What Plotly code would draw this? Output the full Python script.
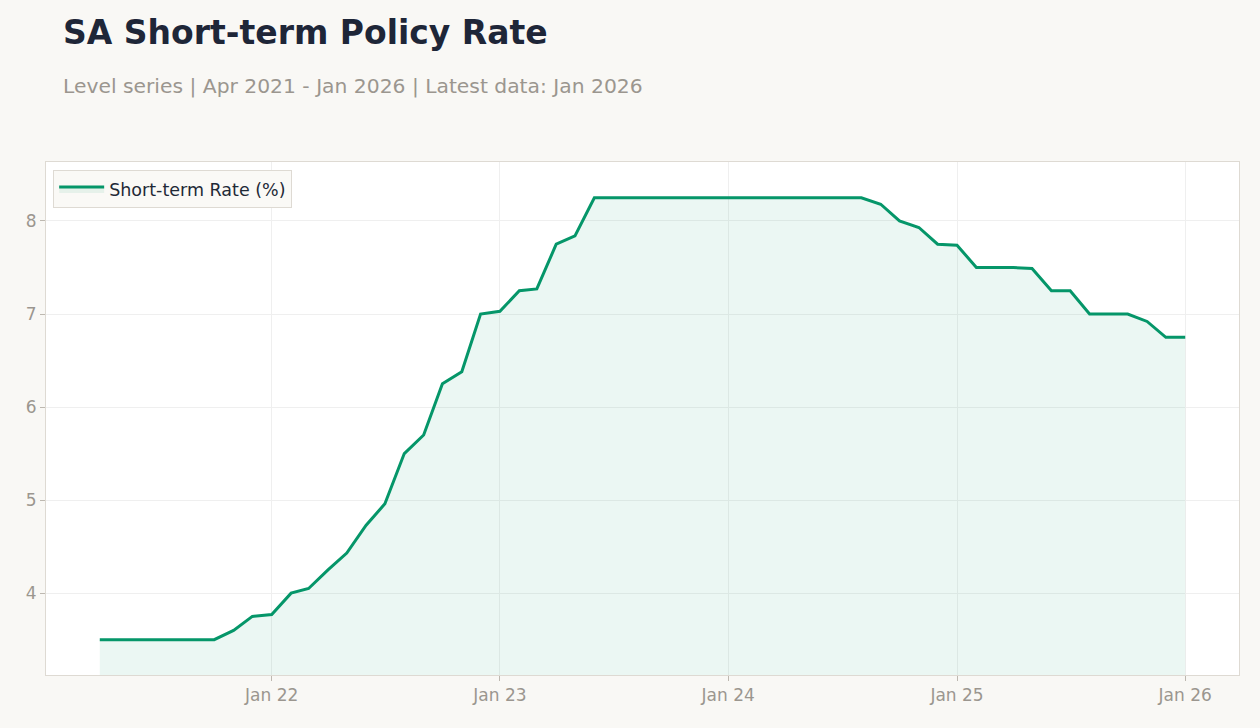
import plotly.graph_objects as go
import pandas as pd

dates = pd.date_range("2021-04-01", "2026-01-01", freq="MS").strftime("%Y-%m-%d").tolist()
rates = [
    3.5, 3.5, 3.5, 3.5, 3.5, 3.5, 3.5, 3.6, 3.75,          # Apr-Dec 2021
    3.77, 4.0, 4.05, 4.25, 4.43, 4.73, 4.96, 5.5, 5.7, 6.25, 6.38, 7.0,  # 2022
    7.03, 7.25, 7.27, 7.75, 7.84, 8.25, 8.25, 8.25, 8.25, 8.25, 8.25, 8.25,  # 2023
    8.25, 8.25, 8.25, 8.25, 8.25, 8.25, 8.25, 8.25, 8.18, 8.0, 7.93, 7.75,  # 2024
    7.74, 7.5, 7.5, 7.5, 7.49, 7.25, 7.25, 7.0, 7.0, 7.0, 6.92, 6.75,  # 2025
    6.75,  # Jan 2026
]
tick_vals = ["2022-01-01", "2023-01-01", "2024-01-01", "2025-01-01", "2026-01-01"]
tick_text = ["Jan 22", "Jan 23", "Jan 24", "Jan 25", "Jan 26"]

LINE = "#059669"
GRAY = "#9b968f"
BORDER = "#dedad3"

fig = go.Figure()
fig.add_trace(go.Scatter(
    x=dates, y=rates, mode="lines", name="Short-term Rate (%)",
    line=dict(color=LINE, width=3),
    fill="tozeroy", fillcolor="rgba(5,150,105,0.08)",
))

fig.update_layout(
    width=1260, height=728,
    paper_bgcolor="#f9f8f5", plot_bgcolor="#ffffff",
    margin=dict(l=46, r=21, t=162, b=53),
    font=dict(family="DejaVu Sans", color=GRAY, size=17),
    showlegend=True,
    legend=dict(x=0.006, y=0.984, xanchor="left", yanchor="top",
                bgcolor="#faf9f6", bordercolor=BORDER, borderwidth=1,
                itemwidth=45,
                font=dict(size=17.5, color="#1f2937")),
    annotations=[
        dict(text="<b>SA Short-term Policy Rate</b>", xref="paper", yref="paper",
             x=0.0125, y=1.2534, xanchor="left", yanchor="middle", showarrow=False,
             font=dict(size=33, color="#1e2638")),
        dict(text="Level series | Apr 2021 - Jan 2026 | Latest data: Jan 2026",
             xref="paper", yref="paper", x=0.0128, y=1.148, xanchor="left",
             yanchor="middle", showarrow=False, font=dict(size=20.3, color=GRAY)),
    ],
)
fig.update_xaxes(
    type="date", range=["2021-01-05", "2026-03-28"],
    tickvals=tick_vals, ticktext=tick_text,
    showgrid=True, gridcolor="#efefef",
    showline=True, linecolor=BORDER, mirror=True,
    ticks="outside", ticklen=5, tickcolor="#bdb8b0",
    tickfont=dict(size=17, color=GRAY), zeroline=False,
)
fig.update_yaxes(
    range=[3.12, 8.634], tickvals=[4, 5, 6, 7, 8],
    showgrid=True, gridcolor="#efefef",
    showline=True, linecolor=BORDER, mirror=True,
    ticks="outside", ticklen=5, tickcolor="#bdb8b0",
    tickfont=dict(size=17, color=GRAY), zeroline=False,
)

fig.write_html("out.html")
